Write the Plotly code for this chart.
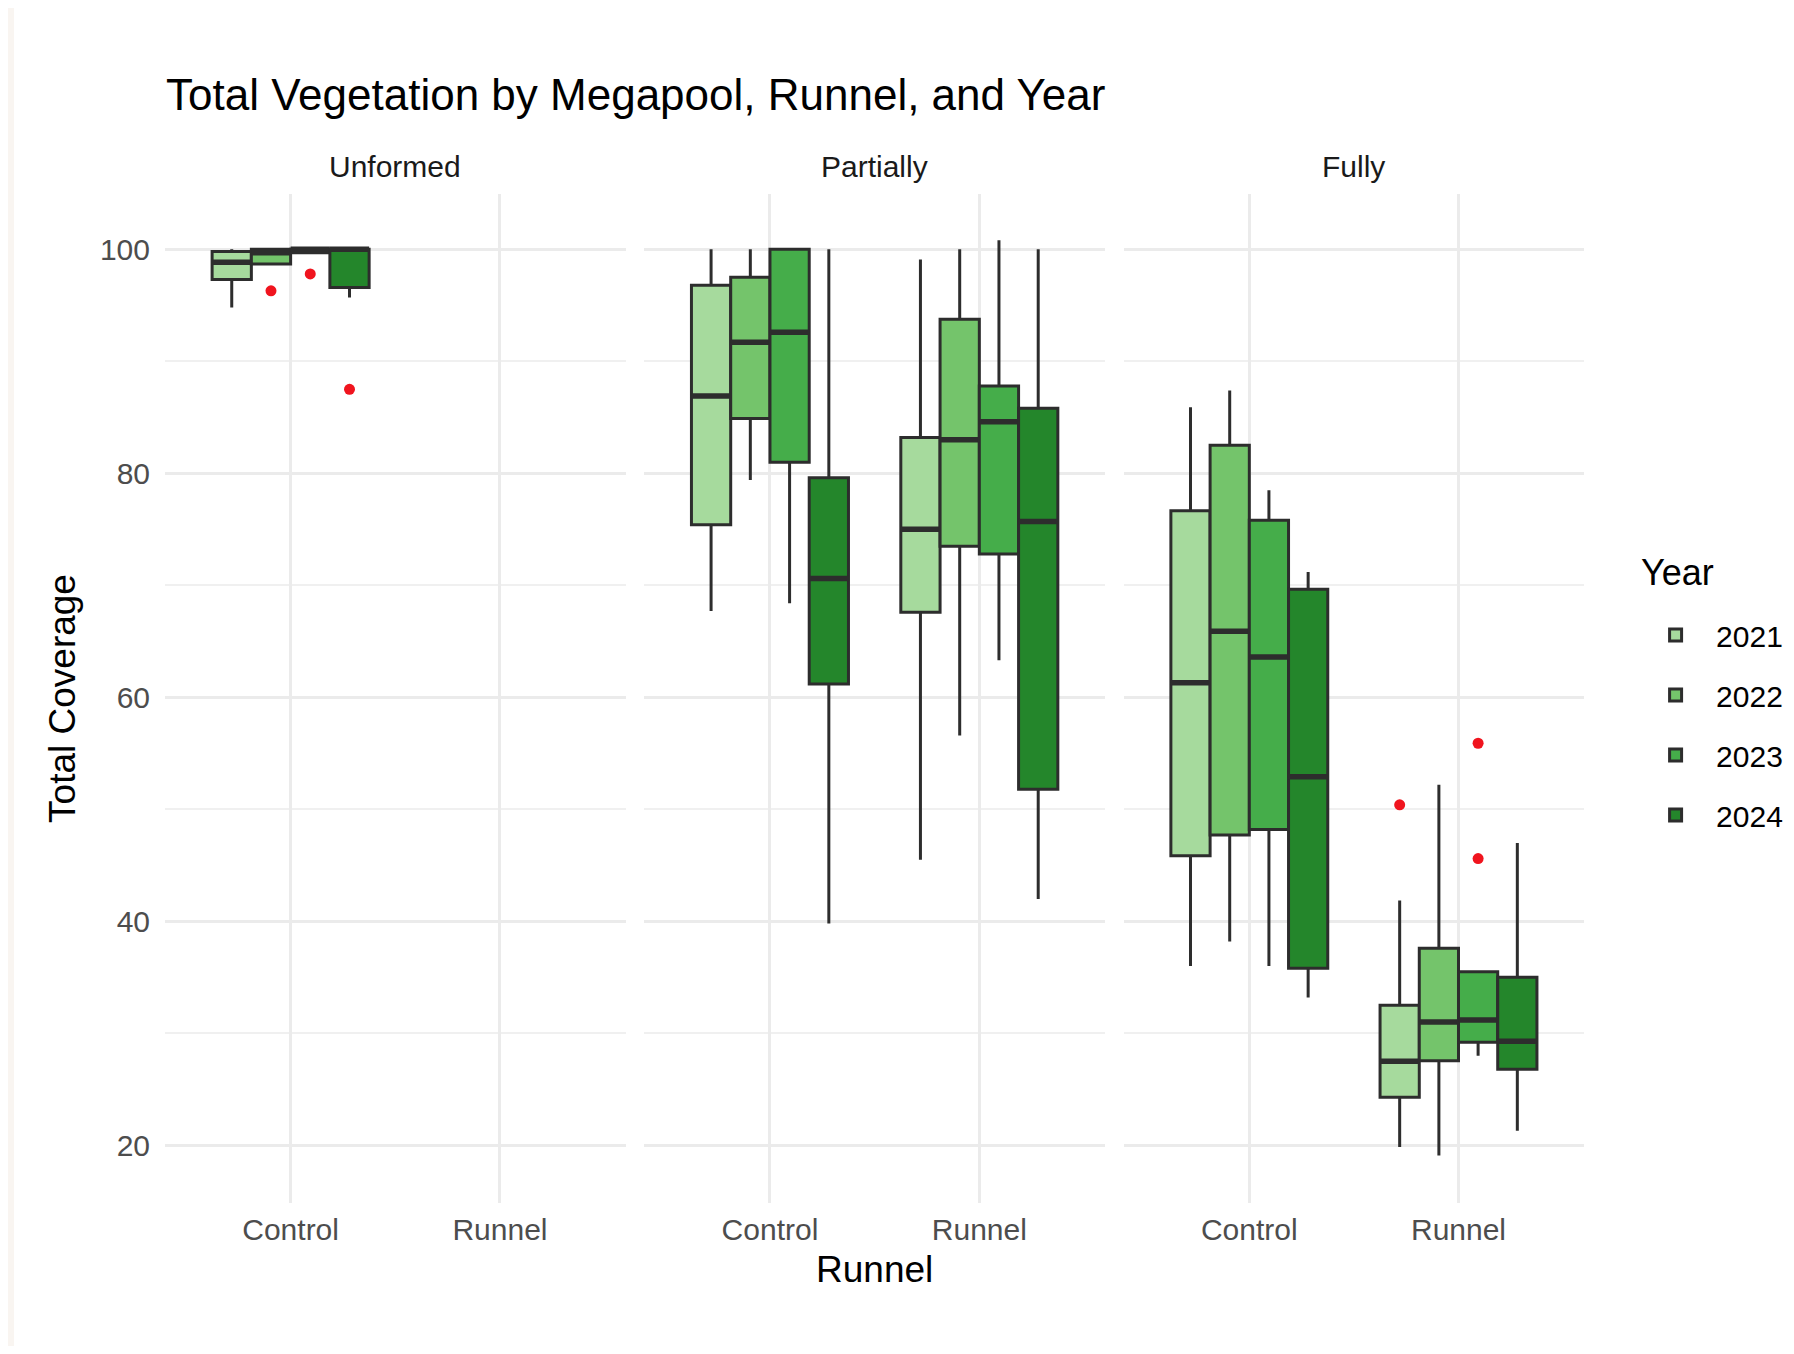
import plotly.graph_objects as go

# ---------------- data ----------------
MEGAPOOLS = ["Unformed", "Partially", "Fully"]
RUNNELS = ["Control", "Runnel"]
YEARS = ["2021", "2022", "2023", "2024"]
COLORS = ["#a6da9d", "#74c46b", "#45ad4a", "#24862b"]

N = None
# indexed [megapool][runnel][year]
LOWER = [
    [[94.8, 98.7, 99.7, 95.7], [N, N, N, N]],
    [[67.7, 79.4, 68.4, 39.8], [45.5, 56.6, 63.3, 42.0]],
    [[36.0, 38.2, 36.0, 33.2], [19.85, 19.1, 28.0, 21.3]],
]
Q1 = [
    [[97.3, 98.7, 99.7, 96.6], [N, N, N, N]],
    [[75.4, 84.9, 81.0, 61.2], [67.6, 73.5, 72.8, 51.8]],
    [[45.85, 47.7, 48.2, 35.8], [24.3, 27.55, 29.2, 26.8]],
]
MEDIAN = [
    [[98.85, 99.7, 100.0, 100.0], [N, N, N, N]],
    [[86.9, 91.7, 92.6, 70.6], [75.0, 83.0, 84.6, 75.7]],
    [[61.3, 65.9, 63.6, 52.9], [27.5, 31.0, 31.2, 29.3]],
]
Q3 = [
    [[99.8, 100.0, 100.0, 100.0], [N, N, N, N]],
    [[96.8, 97.5, 100.0, 79.6], [83.2, 93.75, 87.8, 85.8]],
    [[76.65, 82.5, 75.8, 69.65], [32.5, 37.6, 35.5, 35.0]],
]
UPPER = [
    [[100.0, 100.0, 100.0, 100.0], [N, N, N, N]],
    [[100.0, 100.0, 100.0, 100.0], [99.1, 100.0, 100.8, 100.0]],
    [[85.9, 87.4, 78.5, 71.2], [41.85, 52.2, 35.5, 47.0]],
]
OUT_MEGAPOOL = ["Unformed", "Unformed", "Unformed", "Fully", "Fully", "Fully"]
OUT_RUNNEL = ["Control", "Control", "Control", "Runnel", "Runnel", "Runnel"]
OUT_YEAR = ["2022", "2023", "2024", "2021", "2023", "2023"]
OUT_VALUE = [96.3, 97.8, 87.5, 50.4, 55.9, 45.6]

# ---------------- layout helpers ----------------
FONT = "Liberation Sans, Arial, Helvetica, sans-serif"
DODGE = 0.75                      # total dodge width per category
BW = DODGE / len(YEARS)           # width of each box
OUTLINE = "#2d2d2d"
GRID = "#ebebeb"

def pos(r_idx, y_idx):
    return r_idx + (y_idx - (len(YEARS) - 1) / 2) * BW

domains = [[0.0, 0.3246], [0.3378, 0.6624], [0.6757, 1.0]]

fig = go.Figure()

for m_idx, mp in enumerate(MEGAPOOLS):
    xa = "x" if m_idx == 0 else f"x{m_idx + 1}"
    ya = "y" if m_idx == 0 else f"y{m_idx + 1}"
    for y_idx, yr in enumerate(YEARS):
        xs, lo, q1, md, q3, up = [], [], [], [], [], []
        for r_idx, rn in enumerate(RUNNELS):
            if MEDIAN[m_idx][r_idx][y_idx] is None:
                continue
            xs.append(pos(r_idx, y_idx))
            lo.append(LOWER[m_idx][r_idx][y_idx])
            q1.append(Q1[m_idx][r_idx][y_idx])
            md.append(MEDIAN[m_idx][r_idx][y_idx])
            q3.append(Q3[m_idx][r_idx][y_idx])
            up.append(UPPER[m_idx][r_idx][y_idx])
        if not xs:
            continue
        fig.add_trace(go.Box(
            x=xs, q1=q1, median=md, q3=q3, lowerfence=lo, upperfence=up,
            width=BW, whiskerwidth=0, boxpoints=False,
            fillcolor=COLORS[y_idx], line=dict(color=OUTLINE, width=3),
            name=yr, legendgroup=yr, showlegend=(m_idx == 0),
            xaxis=xa, yaxis=ya,
        ))
        # thicker median bar (ggplot's fatten = 2)
        fig.add_trace(go.Box(
            x=xs, q1=md, median=md, q3=md, lowerfence=md, upperfence=md,
            width=BW, whiskerwidth=0, boxpoints=False,
            fillcolor=OUTLINE, line=dict(color=OUTLINE, width=5.5),
            name=yr, legendgroup=yr, showlegend=False, hoverinfo="skip",
            xaxis=xa, yaxis=ya,
        ))
    # outliers
    ox, oy = [], []
    for om, orn, oyr, ov in zip(OUT_MEGAPOOL, OUT_RUNNEL, OUT_YEAR, OUT_VALUE):
        if om == mp:
            ox.append(pos(RUNNELS.index(orn), YEARS.index(oyr)))
            oy.append(ov)
    if ox:
        fig.add_trace(go.Scatter(
            x=ox, y=oy, mode="markers",
            marker=dict(color="#f0141e", size=11),
            showlegend=False, xaxis=xa, yaxis=ya,
        ))

layout = dict(
    width=1778, height=1338,
    margin=dict(l=157, r=202, t=186, b=143, autoexpand=False),
    paper_bgcolor="white", plot_bgcolor="white",
    font=dict(family=FONT, color="#1a1a1a"),
    showlegend=True,
    title=dict(
        text="Total Vegetation by Megapool, Runnel, and Year",
        font=dict(family=FONT, size=44, color="black"),
        x=0.0007, xref="paper", xanchor="left",
        y=0.935, yref="container", yanchor="middle",
    ),
    legend=dict(
        font=dict(size=30, color="black", family=FONT),
        x=1.036, xanchor="left", y=0.5886, yanchor="top",
        tracegroupgap=18, itemwidth=71, bgcolor="rgba(0,0,0,0)",
    ),
)

for m_idx in range(len(MEGAPOOLS)):
    xk = "xaxis" if m_idx == 0 else f"xaxis{m_idx + 1}"
    yk = "yaxis" if m_idx == 0 else f"yaxis{m_idx + 1}"
    xa_anchor = "y" if m_idx == 0 else f"y{m_idx + 1}"
    ya_anchor = "x" if m_idx == 0 else f"x{m_idx + 1}"
    layout[xk] = dict(
        domain=domains[m_idx], anchor=xa_anchor,
        range=[-0.6, len(RUNNELS) - 1 + 0.6],
        tickmode="array", tickvals=list(range(len(RUNNELS))), ticktext=RUNNELS,
        showgrid=True, gridcolor=GRID, gridwidth=2.5,
        zeroline=False, showline=False, ticks="",
        tickfont=dict(size=30, color="#4d4d4d", family=FONT),
        ticklabelstandoff=6,
    )
    layout[yk] = dict(
        domain=[0, 1], anchor=ya_anchor,
        range=[14.85, 104.94],
        tickmode="array", tickvals=[20, 40, 60, 80, 100],
        showgrid=True, gridcolor=GRID, gridwidth=2.5,
        minor=dict(tickvals=[30, 50, 70, 90], showgrid=True,
                   gridcolor="#f0f0f0", gridwidth=1.8),
        zeroline=False, showline=False, ticks="",
        tickfont=dict(size=30, color="#4d4d4d", family=FONT),
        showticklabels=(m_idx == 0),
        ticklabelstandoff=14,
    )
    if m_idx > 0:
        layout[yk]["matches"] = "y"

layout["xaxis2"]["title"] = dict(text="Runnel", font=dict(size=37, color="black", family=FONT), standoff=11)
layout["yaxis"]["title"] = dict(text="Total Coverage", font=dict(size=37, color="black", family=FONT), standoff=12)

fig.update_layout(**layout)

# facet strip labels
for m_idx, mp in enumerate(MEGAPOOLS):
    d = domains[m_idx]
    fig.add_annotation(
        text=mp, x=(d[0] + d[1]) / 2, y=1.0268, xref="paper", yref="paper",
        xanchor="center", yanchor="middle", showarrow=False,
        font=dict(size=30, color="#1a1a1a", family=FONT),
    )

# legend title
fig.add_annotation(
    text="Year", x=1.0387, y=0.625, xref="paper", yref="paper",
    xanchor="left", yanchor="middle", showarrow=False,
    font=dict(size=36, color="black", family=FONT),
)

# off-white page edge on the left
fig.add_shape(type="rect", xref="paper", yref="paper",
              x0=-0.2, x1=-0.1064, y0=-0.3, y1=1.4,
              fillcolor="#f9f5f1", line=dict(width=0), layer="below")

fig.write_html("out.html")
